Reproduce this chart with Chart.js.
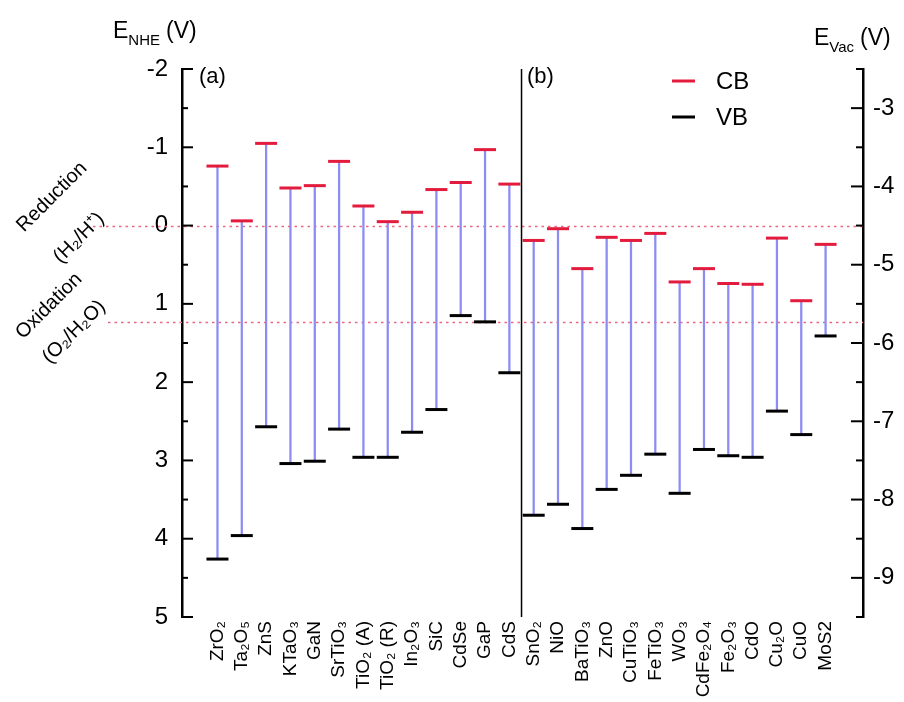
<!DOCTYPE html>
<html>
<head>
<meta charset="utf-8">
<script src="https://cdn.jsdelivr.net/npm/chart.js@4.4.1/dist/chart.umd.min.js"></script>
<style>
  html, body { margin: 0; padding: 0; background: #fff; }
</style>
</head>
<body>
<canvas id="bandChart" width="904" height="702"></canvas>
<script>
// band edge positions vs NHE (V)
const materials = ['ZrO₂', 'Ta₂O₅', 'ZnS', 'KTaO₃', 'GaN', 'SrTiO₃', 'TiO₂ (A)', 'TiO₂ (R)', 'In₂O₃', 'SiC', 'CdSe', 'GaP', 'CdS',
                   'SnO₂', 'NiO', 'BaTiO₃', 'ZnO', 'CuTiO₃', 'FeTiO₃', 'WO₃', 'CdFe₂O₄', 'Fe₂O₃', 'CdO', 'Cu₂O', 'CuO', 'MoS2'];
const cbValues = [-0.76, -0.06, -1.05, -0.48, -0.51, -0.82, -0.25, -0.05, -0.17, -0.46, -0.55, -0.97, -0.53,
                  0.19, 0.04, 0.55, 0.15, 0.19, 0.10, 0.72, 0.55, 0.74, 0.75, 0.16, 0.96, 0.24];
const vbValues = [4.26, 3.96, 2.57, 3.04, 3.01, 2.60, 2.96, 2.96, 2.64, 2.35, 1.15, 1.23, 1.88,
                  3.70, 3.56, 3.87, 3.37, 3.19, 2.92, 3.42, 2.86, 2.94, 2.96, 2.37, 2.67, 1.41];
const nheTicks = [-2, -1, 0, 1, 2, 3, 4, 5];
const vacTicks = [-3, -4, -5, -6, -7, -8, -9];
const redoxLevels = [0, 1.23];
const panelSplit = 12.5;

const FONT = 'Arial, "Liberation Sans", sans-serif';
const RED = '#e31b3d';
const BLUE = '#8c8cf2';

const decor = {
    id: 'decor',
    beforeDatasetsDraw(chart) {
        const ctx = chart.ctx;
        const y = chart.scales.y;
        const area = chart.chartArea;
        ctx.save();
        ctx.strokeStyle = '#e8687f';
        ctx.lineWidth = 1.5;
        ctx.setLineDash([2.5, 4]);
        const starts = [93, 108];
        redoxLevels.forEach((lv, i) => {
            const py = Math.round(y.getPixelForValue(lv)) + 0.5;
            ctx.beginPath();
            ctx.moveTo(starts[i], py);
            ctx.lineTo(area.right, py);
            ctx.stroke();
        });
        ctx.restore();
    },
    afterDraw(chart) {
        const ctx = chart.ctx;
        const { x, y, y2 } = chart.scales;
        const area = chart.chartArea;
        ctx.save();
        ctx.strokeStyle = '#000';
        ctx.lineWidth = 2;

        // inward ticks, left axis
        for (let v = -2; v <= 5.001; v += 0.5) {
            const py = y.getPixelForValue(v);
            const len = Number.isInteger(v) ? 11 : 6;
            ctx.beginPath();
            ctx.moveTo(area.left, py);
            ctx.lineTo(area.left + len, py);
            ctx.stroke();
        }
        // inward ticks, right axis
        for (let v = -2.5; v >= -9.501; v -= 0.5) {
            const py = y2.getPixelForValue(v);
            const len = Number.isInteger(v) ? 12 : 7;
            ctx.beginPath();
            ctx.moveTo(area.right, py);
            ctx.lineTo(area.right - len, py);
            ctx.stroke();
        }

        // panel divider
        const dx = x.getPixelForValue(panelSplit);
        ctx.lineWidth = 1.5;
        ctx.beginPath();
        ctx.moveTo(dx, area.top);
        ctx.lineTo(dx, area.bottom);
        ctx.stroke();

        ctx.fillStyle = '#000';
        ctx.textBaseline = 'alphabetic';
        ctx.textAlign = 'left';

        // axis titles
        const drawSub = (px, py, main, sub, tail) => {
            ctx.font = '23px ' + FONT;
            ctx.fillText(main, px, py);
            let cx = px + ctx.measureText(main).width;
            ctx.font = '15px ' + FONT;
            ctx.fillText(sub, cx, py + 7);
            cx += ctx.measureText(sub).width + 6;
            ctx.font = '23px ' + FONT;
            ctx.fillText(tail, cx, py);
        };
        drawSub(113, 38, 'E', 'NHE', '(V)');
        drawSub(814, 45, 'E', 'Vac', '(V)');

        // panel letters
        ctx.font = '22px ' + FONT;
        ctx.textBaseline = 'middle';
        ctx.fillText('(a)', 199, 77);
        ctx.fillText('(b)', 527, 77);

        // legend
        ctx.lineWidth = 3;
        ctx.strokeStyle = RED;
        ctx.beginPath(); ctx.moveTo(672, 81); ctx.lineTo(695, 81); ctx.stroke();
        ctx.strokeStyle = '#000';
        ctx.beginPath(); ctx.moveTo(672, 117); ctx.lineTo(695, 117); ctx.stroke();
        ctx.font = '24px ' + FONT;
        ctx.fillText('CB', 716, 82);
        ctx.fillText('VB', 716, 118);

        // redox labels
        ctx.font = '20px ' + FONT;
        ctx.textAlign = 'center';
        const tilted = (txt, cx, cy) => {
            ctx.save();
            ctx.translate(cx, cy);
            ctx.rotate(-Math.PI / 4);
            ctx.fillText(txt, 0, 0);
            ctx.restore();
        };
        tilted('Reduction', 52, 197);
        tilted('(H₂/H⁺)', 79, 238);
        tilted('Oxidation', 49, 306);
        tilted('(O₂/H₂O)', 74, 332);
        ctx.restore();
    }
};

const ctx = document.getElementById('bandChart').getContext('2d');
new Chart(ctx, {
    type: 'bar',
    data: {
        datasets: [
            {
                type: 'bar',
                label: 'gap',
                data: materials.map((m, i) => ({ x: i, y: [cbValues[i], vbValues[i]] })),
                backgroundColor: BLUE,
                borderWidth: 0,
                barThickness: 1.6,
                yAxisID: 'y',
                order: 3
            },
            {
                type: 'scatter',
                label: 'CB',
                data: materials.map((m, i) => ({ x: i, y: cbValues[i] })),
                pointStyle: 'line',
                pointRadius: 11,
                borderWidth: 3,
                borderColor: RED,
                backgroundColor: RED,
                yAxisID: 'y',
                order: 1
            },
            {
                type: 'scatter',
                label: 'VB',
                data: materials.map((m, i) => ({ x: i, y: vbValues[i] })),
                pointStyle: 'line',
                pointRadius: 11,
                borderWidth: 3,
                borderColor: '#000',
                backgroundColor: '#000',
                yAxisID: 'y',
                order: 2
            }
        ]
    },
    options: {
        responsive: false,
        animation: false,
        events: [],
        layout: { padding: { top: 69, left: 0, right: 0, bottom: 0 } },
        plugins: {
            legend: { display: false },
            tooltip: { enabled: false }
        },
        scales: {
            x: {
                type: 'linear',
                min: -0.92,
                max: 26,
                grid: { display: false, drawTicks: false },
                border: { display: false },
                afterBuildTicks: s => { s.ticks = materials.map((m, i) => ({ value: i })); },
                afterFit: s => { s.height = 85; },
                ticks: {
                    autoSkip: false,
                    maxRotation: 90,
                    minRotation: 90,
                    padding: 4,
                    color: '#000',
                    font: { family: FONT, size: 19 },
                    callback: v => materials[v]
                }
            },
            y: {
                position: 'left',
                reverse: true,
                min: -2,
                max: 5,
                grid: { display: false, drawTicks: false },
                border: { display: true, color: '#000', width: 2.5 },
                afterBuildTicks: s => { s.ticks = nheTicks.map(v => ({ value: v })); },
                afterFit: s => { s.width = 182; },
                ticks: {
                    padding: 14,
                    color: '#000',
                    font: { family: FONT, size: 24 },
                    callback: v => String(v)
                }
            },
            y2: {
                position: 'right',
                min: -9.5,
                max: -2.5,
                grid: { display: false, drawTicks: false },
                border: { display: true, color: '#000', width: 2.5 },
                afterBuildTicks: s => { s.ticks = vacTicks.map(v => ({ value: v })); },
                afterFit: s => { s.width = 41; },
                ticks: {
                    padding: 10,
                    color: '#000',
                    font: { family: FONT, size: 24 },
                    callback: v => String(v)
                }
            }
        }
    },
    plugins: [decor]
});
</script>
</body>
</html>
